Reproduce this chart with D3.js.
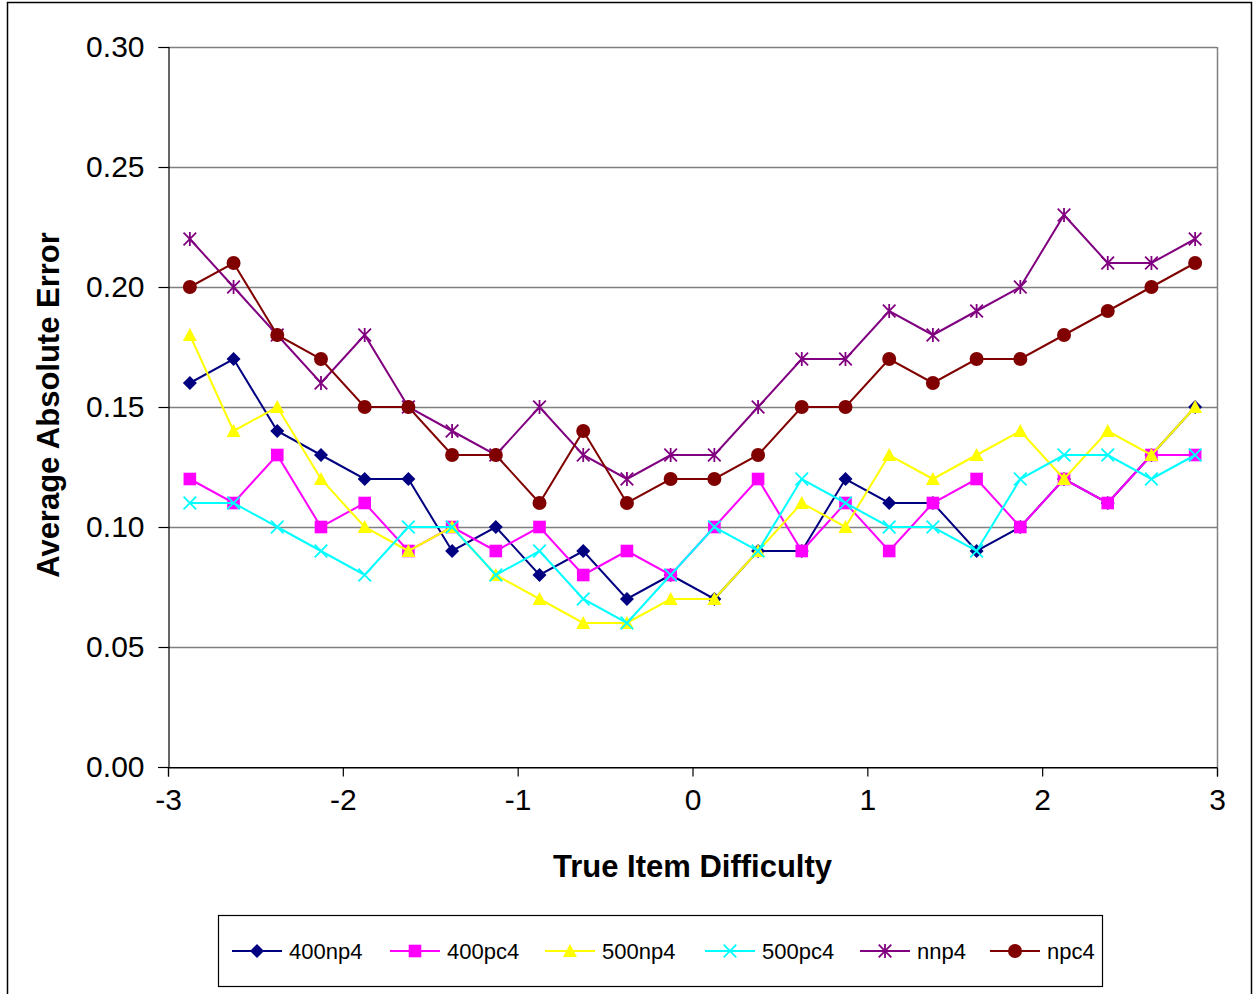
<!DOCTYPE html>
<html>
<head>
<meta charset="utf-8">
<script src="https://cdn.jsdelivr.net/npm/d3@7"></script>
<style>
  html, body { margin: 0; padding: 0; background: #fff; }
  svg { display: block; font-family: Arial, "Liberation Sans", sans-serif; }
</style>
</head>
<body>
<svg id="chart" width="1255" height="994"></svg>
<script>
// Item difficulty bins (centres of 0.25-wide bins from -3 to 3)
const difficulty = [-2.875, -2.625, -2.375, -2.125, -1.875, -1.625, -1.375, -1.125,
                    -0.875, -0.625, -0.375, -0.125, 0.125, 0.375, 0.625, 0.875,
                    1.125, 1.375, 1.625, 1.875, 2.125, 2.375, 2.625, 2.875];

const seriesNames = ["400np4", "400pc4", "500np4", "500pc4", "nnp4", "npc4"];

const err400np4 = [0.16, 0.17, 0.14, 0.13, 0.12, 0.12, 0.09, 0.10, 0.08, 0.09, 0.07, 0.08,
                   0.07, 0.09, 0.09, 0.12, 0.11, 0.11, 0.09, 0.10, 0.12, 0.11, 0.13, 0.15];
const err400pc4 = [0.12, 0.11, 0.13, 0.10, 0.11, 0.09, 0.10, 0.09, 0.10, 0.08, 0.09, 0.08,
                   0.10, 0.12, 0.09, 0.11, 0.09, 0.11, 0.12, 0.10, 0.12, 0.11, 0.13, 0.13];
const err500np4 = [0.18, 0.14, 0.15, 0.12, 0.10, 0.09, 0.10, 0.08, 0.07, 0.06, 0.06, 0.07,
                   0.07, 0.09, 0.11, 0.10, 0.13, 0.12, 0.13, 0.14, 0.12, 0.14, 0.13, 0.15];
const err500pc4 = [0.11, 0.11, 0.10, 0.09, 0.08, 0.10, 0.10, 0.08, 0.09, 0.07, 0.06, 0.08,
                   0.10, 0.09, 0.12, 0.11, 0.10, 0.10, 0.09, 0.12, 0.13, 0.13, 0.12, 0.13];
const errNnp4   = [0.22, 0.20, 0.18, 0.16, 0.18, 0.15, 0.14, 0.13, 0.15, 0.13, 0.12, 0.13,
                   0.13, 0.15, 0.17, 0.17, 0.19, 0.18, 0.19, 0.20, 0.23, 0.21, 0.21, 0.22];
const errNpc4   = [0.20, 0.21, 0.18, 0.17, 0.15, 0.15, 0.13, 0.13, 0.11, 0.14, 0.11, 0.12,
                   0.12, 0.13, 0.15, 0.15, 0.17, 0.16, 0.17, 0.17, 0.18, 0.19, 0.20, 0.21];

const xTicks = [-3, -2, -1, 0, 1, 2, 3];
const yTicks = [0, 0.05, 0.10, 0.15, 0.20, 0.25, 0.30];

const seriesValues = [err400np4, err400pc4, err500np4, err500pc4, errNnp4, errNpc4];
const colors = ["#000080", "#FF00FF", "#FFFF00", "#00FFFF", "#800080", "#800000"];
const markers = ["diamond", "square", "triangle", "cross", "asterisk", "circle"];

const svg = d3.select("#chart");

// outer chart frame
svg.append("rect")
  .attr("x", 7.5).attr("y", 2.5).attr("width", 1244).attr("height", 1010)
  .attr("fill", "#fff").attr("stroke", "#000").attr("stroke-width", 1.5);

const plot = { left: 168, right: 1217, top: 47, bottom: 767 };

const x = d3.scaleLinear().domain([-3, 3]).range([plot.left, plot.right]);
const y = d3.scaleLinear().domain([0, 0.30]).range([plot.bottom, plot.top]);

// gridlines
svg.append("g")
  .selectAll("line")
  .data(yTicks.filter(d => d > 0))
  .join("line")
  .attr("x1", plot.left).attr("x2", plot.right)
  .attr("y1", d => Math.round(y(d)) + 0.5).attr("y2", d => Math.round(y(d)) + 0.5)
  .attr("stroke", "#808080").attr("stroke-width", 1.5);

// right plot border
svg.append("line")
  .attr("x1", plot.right + 0.5).attr("x2", plot.right + 0.5)
  .attr("y1", plot.top).attr("y2", plot.bottom)
  .attr("stroke", "#808080").attr("stroke-width", 1.5);

// y axis
const yAxis = d3.axisLeft(y)
  .tickValues(yTicks)
  .tickFormat(d3.format(".2f"))
  .tickSize(10)
  .tickPadding(14);
const gy = svg.append("g")
  .attr("transform", `translate(${plot.left + 0.5},0)`)
  .call(yAxis);
gy.select(".domain").attr("stroke", "#000").attr("stroke-width", 1.2);
gy.selectAll(".tick line").attr("stroke", "#000").attr("stroke-width", 1.2);
gy.selectAll(".tick text")
  .attr("font-size", 30).attr("font-family", "Arial, 'Liberation Sans', sans-serif")
  .attr("fill", "#000");

// x axis (plain hyphen-minus labels)
const xAxis = d3.axisBottom(x)
  .tickValues(xTicks)
  .tickFormat(d => String(d))
  .tickSize(9)
  .tickPadding(12);
const gx = svg.append("g")
  .attr("transform", `translate(0,${plot.bottom + 0.5})`)
  .call(xAxis);
gx.select(".domain").attr("stroke", "#000").attr("stroke-width", 1.2);
gx.selectAll(".tick line").attr("stroke", "#000").attr("stroke-width", 1.2);
gx.selectAll(".tick text")
  .attr("font-size", 30).attr("font-family", "Arial, 'Liberation Sans', sans-serif")
  .attr("fill", "#000");
// extend the bottom axis line left to meet the 0.00 tick
svg.append("line")
  .attr("x1", plot.left - 10).attr("x2", plot.right)
  .attr("y1", plot.bottom + 0.5).attr("y2", plot.bottom + 0.5)
  .attr("stroke", "#000").attr("stroke-width", 1.2);

// axis titles
svg.append("text")
  .attr("x", (plot.left + plot.right) / 2).attr("y", 877)
  .attr("text-anchor", "middle")
  .attr("font-size", 31).attr("font-weight", "bold")
  .text("True Item Difficulty");

svg.append("text")
  .attr("transform", `translate(59,405) rotate(-90)`)
  .attr("text-anchor", "middle")
  .attr("font-size", 31).attr("font-weight", "bold")
  .text("Average Absolute Error");

// marker drawing
function drawMarker(g, type, color, size) {
  const s = size / 2;
  if (type === "diamond") {
    g.append("path").attr("d", `M0,${-s}L${s},0L0,${s}L${-s},0Z`).attr("fill", color);
  } else if (type === "square") {
    const h = s * 0.9;
    g.append("rect").attr("x", -h).attr("y", -h).attr("width", 2 * h).attr("height", 2 * h).attr("fill", color);
  } else if (type === "triangle") {
    g.append("path").attr("d", `M0,${-s}L${s},${s * 0.85}L${-s},${s * 0.85}Z`).attr("fill", color);
  } else if (type === "cross") {
    const h = s * 0.9;
    g.append("path").attr("d", `M${-h},${-h}L${h},${h}M${-h},${h}L${h},${-h}`)
      .attr("stroke", color).attr("stroke-width", 1.8).attr("fill", "none");
  } else if (type === "asterisk") {
    const h = s * 0.9;
    g.append("path").attr("d", `M${-h},${-h}L${h},${h}M${-h},${h}L${h},${-h}M0,${-s}L0,${s}`)
      .attr("stroke", color).attr("stroke-width", 1.8).attr("fill", "none");
  } else if (type === "circle") {
    g.append("circle").attr("r", s).attr("fill", color);
  }
}

const line = d3.line().x(d => x(d[0])).y(d => y(d[1]));

seriesValues.forEach((vals, i) => {
  const pts = difficulty.map((d, j) => [d, vals[j]]);
  const g = svg.append("g").attr("class", "series");
  g.append("path")
    .attr("d", line(pts))
    .attr("fill", "none")
    .attr("stroke", colors[i])
    .attr("stroke-width", 2);
  g.selectAll("g.pt")
    .data(pts)
    .join("g")
    .attr("class", "pt")
    .attr("transform", d => `translate(${x(d[0])},${y(d[1])})`)
    .each(function () { drawMarker(d3.select(this), markers[i], colors[i], 14); });
});

// legend
const legend = svg.append("g");
legend.append("rect")
  .attr("x", 218.5).attr("y", 915.5).attr("width", 884).attr("height", 71)
  .attr("fill", "#fff").attr("stroke", "#000").attr("stroke-width", 1.2);

const legendX = [232, 390, 545, 705, 860, 990];
seriesNames.forEach((name, i) => {
  const lg = legend.append("g").attr("transform", `translate(${legendX[i]},951)`);
  lg.append("line").attr("x1", 0).attr("x2", 50).attr("y1", 0).attr("y2", 0)
    .attr("stroke", colors[i]).attr("stroke-width", 2);
  const mg = lg.append("g").attr("transform", "translate(25,0)");
  drawMarker(mg, markers[i], colors[i], 14);
  lg.append("text")
    .attr("x", 57).attr("y", 0).attr("dy", "0.35em")
    .attr("font-size", 22)
    .text(name);
});
</script>
</body>
</html>
